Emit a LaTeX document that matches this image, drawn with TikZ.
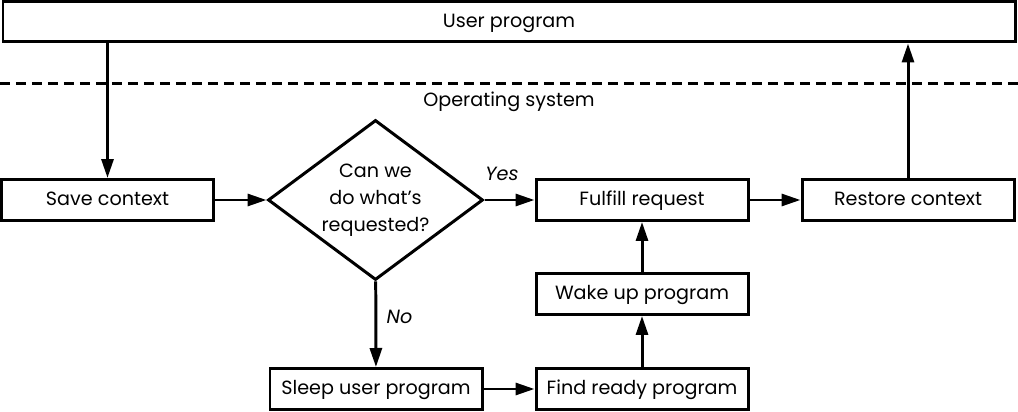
\documentclass[tikz,border=0pt]{standalone}
\usepackage{fontspec}
\setmainfont{Poppins}
\usetikzlibrary{arrows.meta,shapes.geometric}
\begin{document}
\begin{tikzpicture}[line width=1.7pt,>={Triangle[length=0.38cm,width=0.24cm]},
        font=\fontsize{10.9}{15.4}\selectfont,
        box/.style={draw,minimum width=4.24cm,minimum height=0.82cm,inner sep=0pt,text height=1.55ex,text depth=0.35ex},
        decision/.style={draw,diamond,minimum width=4.3cm,minimum height=3.2cm,inner sep=0pt}]
            \useasboundingbox (0,0) rectangle (20.36,-8.24);
            \node[box,minimum width=20.24cm,minimum height=0.8cm] (user) at (10.18,-0.44) {User program};
            \draw[dashed,dash pattern=on 0.2cm off 0.12cm] (0,-1.68) -- (20.36,-1.68);
            \node (os) at (10.18,-2.04) {Operating system};
            \node[box] (save) at (2.15,-4.0) {Save context};
            \node[decision,label={[align=center]center:Can we\\do what’s\\requested?}] (dec) at (7.51,-4.0) {};
            \node[box] (fulfill) at (12.84,-4.0) {Fulfill request};
            \node[box] (restore) at (18.16,-4.0) {Restore context};
            \node[box] (wake) at (12.84,-5.88) {Wake up program};
            \node[box] (sleep) at (7.52,-7.78) {Sleep user program};
            \node[box] (find) at (12.84,-7.78) {Find ready program};
            \draw[->] (save.north |- user.south) -- (save.north);
            \draw[->] (save) -- (dec);
            \draw[->] (dec) -- node[pos=0.35,above=7pt,font=\fontsize{10.9}{15}\selectfont\itshape] {Yes} (fulfill);
            \draw[->] (fulfill) -- (restore);
            \draw[->] (restore.north) -- (restore.north |- user.south);
            \draw[->] (dec) -- node[pos=0.42,right=2pt,font=\fontsize{10.9}{15}\selectfont\itshape] {No} (sleep);
            \draw[->] (sleep) -- (find);
            \draw[->] (find) -- (wake);
            \draw[->] (wake) -- (fulfill);
        \end{tikzpicture}
\end{document}
